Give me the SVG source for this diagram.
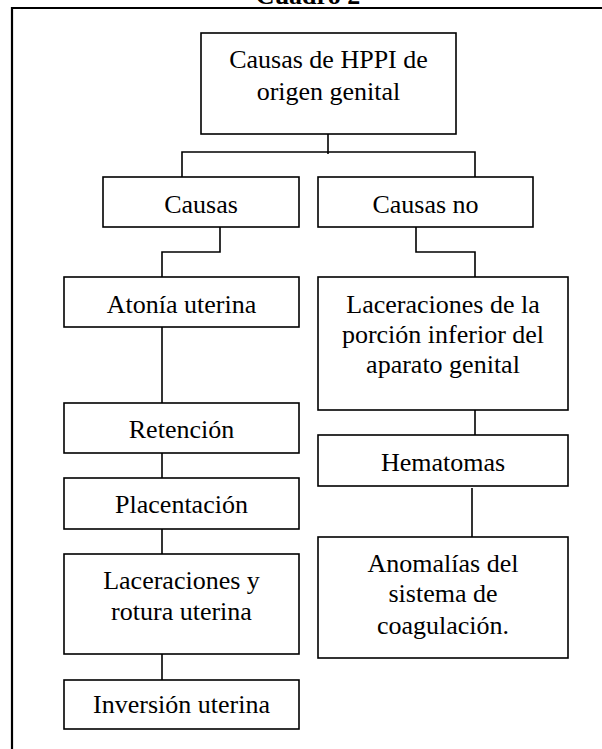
<svg xmlns="http://www.w3.org/2000/svg" width="602" height="749" viewBox="0 0 602 749">
<style>
.box{fill:#fff;stroke:#000;stroke-width:1.6}
.t{font-family:"Liberation Serif","Times New Roman",serif;font-size:26px;fill:#000;text-anchor:middle}
.title{font-family:"Liberation Serif","Times New Roman",serif;font-size:26px;font-weight:bold;fill:#000;text-anchor:middle}
.c{fill:none;stroke:#000;stroke-width:1.6}
.frame{fill:none;stroke:#000;stroke-width:2.2}
</style>
<rect width="602" height="749" fill="#fff"/>
<text class="title" x="308" y="4">Cuadro 2</text>
<path class="frame" d="M12,749 V8 H602"/>
<g id="connectors">
<path class="c" d="M328,134 V154"/>
<path class="c" d="M182,177 V152 H475 V177"/>
<path class="c" d="M220,227 V252 H162 V277"/>
<path class="c" d="M416,227 V252 H475 V277"/>
<path class="c" d="M162,327 V403"/>
<path class="c" d="M162,453 V478"/>
<path class="c" d="M162,529 V554"/>
<path class="c" d="M162,654 V680"/>
<path class="c" d="M475,410 V435"/>
<path class="c" d="M472,488 V537"/>
</g>
<g id="root">
<rect class="box" x="201" y="33" width="255" height="101"/>
<text class="t" x="328.5" y="68">Causas de HPPI de</text>
<text class="t" x="328.5" y="100">origen genital</text>
</g>
<g id="causas">
<rect class="box" x="103" y="177" width="196" height="50"/>
<text class="t" x="201" y="213">Causas</text>
</g>
<g id="causas-no">
<rect class="box" x="318" y="177" width="215" height="50"/>
<text class="t" x="425.5" y="213">Causas no</text>
</g>
<g id="atonia">
<rect class="box" x="64" y="277" width="235" height="50"/>
<text class="t" x="181.5" y="313">Atonía uterina</text>
</g>
<g id="laceraciones-inferior">
<rect class="box" x="318" y="277" width="250" height="133"/>
<text class="t" x="443" y="313">Laceraciones de la</text>
<text class="t" x="443" y="343">porción inferior del</text>
<text class="t" x="443" y="373">aparato genital</text>
</g>
<g id="retencion">
<rect class="box" x="64" y="403" width="235" height="50"/>
<text class="t" x="181.5" y="438">Retención</text>
</g>
<g id="hematomas">
<rect class="box" x="318" y="435" width="250" height="51"/>
<text class="t" x="443" y="471">Hematomas</text>
</g>
<g id="placentacion">
<rect class="box" x="64" y="478" width="235" height="51"/>
<text class="t" x="181.5" y="513">Placentación</text>
</g>
<g id="anomalias">
<rect class="box" x="318" y="537" width="250" height="121"/>
<text class="t" x="443" y="572">Anomalías del</text>
<text class="t" x="443" y="602">sistema de</text>
<text class="t" x="443" y="634">coagulación.</text>
</g>
<g id="laceraciones-rotura">
<rect class="box" x="64" y="554" width="235" height="100"/>
<text class="t" x="181.5" y="589">Laceraciones y</text>
<text class="t" x="181.5" y="620">rotura uterina</text>
</g>
<g id="inversion">
<rect class="box" x="64" y="680" width="235" height="49"/>
<text class="t" x="181.5" y="713">Inversión uterina</text>
</g>
</svg>
